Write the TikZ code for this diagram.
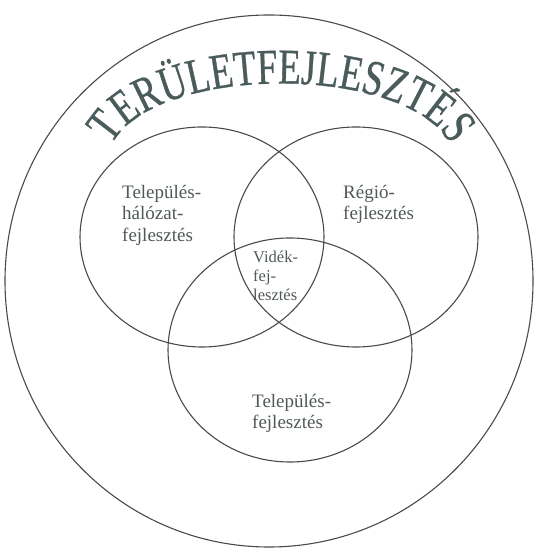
\documentclass[tikz,border=0pt]{standalone}
\usepackage{fontspec}
\setmainfont{Liberation Serif}
\newfontfamily\titlefont[FakeStretch=0.74,FakeBold=0.6]{Liberation Serif}
\usetikzlibrary{decorations.text}
\definecolor{linegray}{HTML}{4A4A4A}
\definecolor{textgray}{HTML}{505858}
\definecolor{titlegray}{HTML}{4A5B5B}
\tikzset{
  ring/.style={draw=linegray, line width=1.1pt},
  lbl/.style={inner sep=0pt, anchor=north west, align=left, text=textgray,
    font=\fontsize{19}{21.5}\selectfont},
  smalllbl/.style={lbl, font=\fontsize{16.5}{19}\selectfont}
}
\begin{document}
\begin{tikzpicture}[x=1pt,y=1pt]
\useasboundingbox (0,0) rectangle (538,548);
\coordinate (outerc) at (269,267);
\coordinate (leftc) at (202,311);
\coordinate (rightc) at (356,311);
\coordinate (bottomc) at (290,198);
\coordinate (tstart) at (110,400);
\coordinate (tc1) at (148,486);
\coordinate (tc2) at (414,486);
\coordinate (tend) at (452,400);
\draw[ring] (outerc) ellipse [x radius=264pt, y radius=266pt];
\draw[ring] (leftc) ellipse [x radius=122pt, y radius=110pt];
\draw[ring] (rightc) ellipse [x radius=122pt, y radius=110pt];
\draw[ring] (bottomc) ellipse [x radius=122pt, y radius=112pt];
\path[decorate, decoration={text along path, text align=center,
    text color=titlegray,
    text format delimiters={|}{|},
    text={|\fontsize{50}{50}\titlefont|TERÜLETFEJLESZTÉS}}]
  (tstart) .. controls (tc1) and (tc2) .. (tend);
\node[lbl] (telhal) at (122,363) {Település-\\hálózat-\\fejlesztés};
\node[lbl] (regio) at (343,363) {Régió-\\fejlesztés};
\node[smalllbl] (videk) at (253,297.5) {Vidék-\\fej-\\lesztés};
\node[lbl] (telfej) at (252,154) {Település-\\fejlesztés};
\end{tikzpicture}
\end{document}
